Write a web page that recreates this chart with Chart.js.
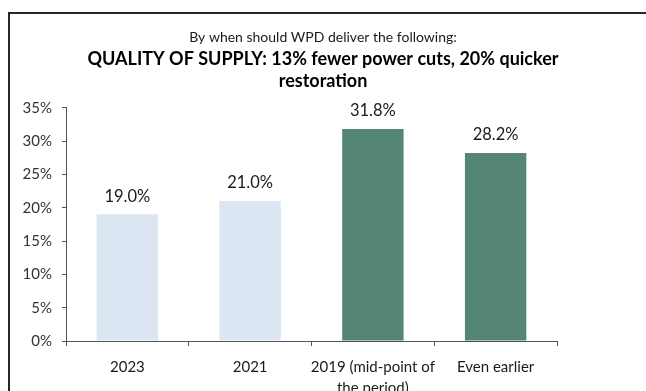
<!DOCTYPE html>
<html>
<head>
<meta charset="utf-8">
<script src="https://cdn.jsdelivr.net/npm/chart.js@4.4.1/dist/chart.umd.min.js"></script>
<style>
  html, body { margin: 0; padding: 0; background: #fff; overflow: hidden; }
  #wrap { position: relative; width: 646px; height: 391px; }
  #marco { position: absolute; left: 8px; top: 12px; width: 700px; height: 500px;
           border-top: 2px solid #262626; border-left: 2px solid #262626; }
  canvas { position: absolute; left: 0; top: 0; }
</style>
</head>
<body>
<div id="wrap">
  <div id="marco"></div>
  <canvas id="grafica" width="646" height="391"></canvas>
</div>
<script>
// Datos
const categorias = ["2023", "2021", ["2019 (mid-point of", "the period)"], "Even earlier"];
const porcentajes = [19.0, 21.0, 31.8, 28.2];
const colores = ["#dce6f2", "#dce6f2", "#558574", "#558574"];
const ticksY = [0, 5, 10, 15, 20, 25, 30, 35];

const fuente = "Lato, 'Open Sans', sans-serif";

// Etiquetas de valor encima de cada barra
const etiquetasBarras = {
  id: "etiquetasBarras",
  afterDatasetsDraw(chart) {
    const ctx = chart.ctx;
    const meta = chart.getDatasetMeta(0);
    ctx.save();
    ctx.font = "16.5px " + fuente;
    ctx.fillStyle = "#1a1a1a";
    ctx.textAlign = "center";
    ctx.textBaseline = "middle";
    meta.data.forEach((barra, i) => {
      ctx.fillText(porcentajes[i].toFixed(1) + "%", barra.x, barra.y - 18);
    });
    ctx.restore();
  },
};

new Chart(document.getElementById("grafica"), {
  type: "bar",
  data: {
    labels: categorias,
    datasets: [{
      data: porcentajes,
      backgroundColor: colores,
      borderWidth: 0,
      categoryPercentage: 1,
      barPercentage: 0.5,
    }],
  },
  options: {
    responsive: false,
    animation: false,
    layout: { padding: 0 },
    plugins: {
      legend: { display: false },
      tooltip: { enabled: false },
      title: {
        display: true,
        text: "By when should WPD deliver the following:",
        color: "#1a1a1a",
        font: { family: fuente, size: 14, weight: "normal", lineHeight: 1.2 },
        padding: { top: 29, bottom: 2 },
      },
      subtitle: {
        display: true,
        text: ["QUALITY OF SUPPLY: 13% fewer power cuts, 20% quicker", "restoration"],
        color: "#000",
        font: { family: fuente, size: 18, weight: "bold", lineHeight: 1.22 },
        padding: { top: 0, bottom: 16 },
      },
    },
    scales: {
      y: {
        min: 0,
        max: 35,
        afterBuildTicks(scale) { scale.ticks = ticksY.map(v => ({ value: v })); },
        afterFit(scale) { scale.width = 66; },
        ticks: {
          callback: v => v + "%",
          color: "#333",
          padding: 10,
          font: { family: fuente, size: 15 },
        },
        grid: { drawOnChartArea: false, drawTicks: true, tickLength: 4, color: "#555" },
        border: { display: true, color: "#555", width: 1 },
      },
      // eje derecho vacio, solo reserva el margen derecho del area de trazado
      margenDer: {
        position: "right",
        afterFit(scale) { scale.width = 89; },
        ticks: { display: false },
        grid: { display: false },
        border: { display: false },
      },
      x: {
        afterFit(scale) { scale.height = 50; },
        ticks: {
          color: "#1a1a1a",
          padding: 11,
          maxRotation: 0,
          autoSkip: false,
          font: { family: fuente, size: 15, lineHeight: 1.4 },
        },
        grid: { offset: true, drawOnChartArea: false, drawTicks: true, tickLength: 5, color: "#555" },
        border: { display: true, color: "#555", width: 1 },
      },
    },
  },
  plugins: [etiquetasBarras],
});
</script>
</body>
</html>
